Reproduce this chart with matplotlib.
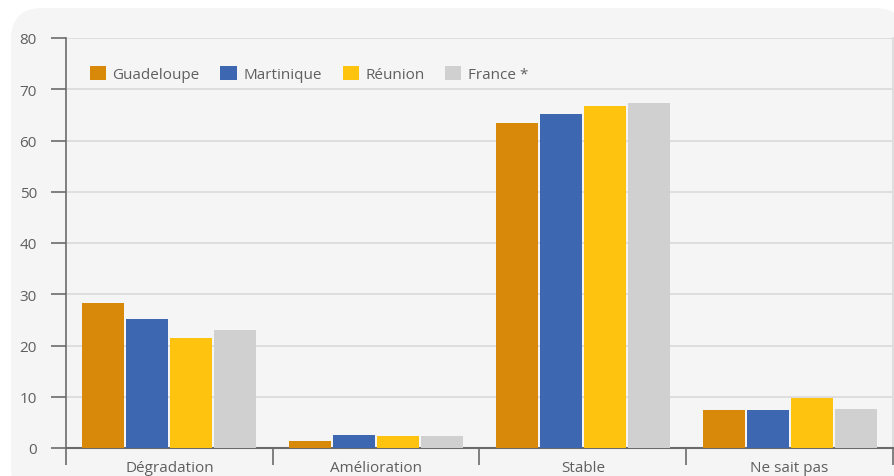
import numpy as np
import matplotlib.pyplot as plt
from matplotlib.patches import FancyBboxPatch

# Data
categories = ["Dégradation", "Amélioration", "Stable", "Ne sait pas"]
series_names = ["Guadeloupe", "Martinique", "Réunion", "France *"]
guadeloupe = [28.3, 1.4, 63.4, 7.4]
martinique = [25.2, 2.5, 65.2, 7.4]
reunion = [21.5, 2.3, 66.7, 9.7]
france = [23.0, 2.3, 67.3, 7.6]
y_ticks = [0, 10, 20, 30, 40, 50, 60, 70, 80]

colors = ["#d8890a", "#3d67b0", "#fdc30f", "#d0d0d0"]
text_col = "#5f5f5f"

plt.rcParams['font.family'] = ['Open Sans', 'DejaVu Sans']

fig = plt.figure(figsize=(8.95, 4.77), dpi=100)
fig.patch.set_facecolor("white")

# rounded light panel behind the chart
panel = FancyBboxPatch((11 / 895, -0.05), 1.0, 1.0 - 9 / 477 + 0.05,
                       boxstyle="round,pad=0,rounding_size=0.035",
                       transform=fig.transFigure, facecolor="#f5f5f5",
                       edgecolor="none", zorder=-5, mutation_aspect=895 / 477)
fig.patches.append(panel)

ax = fig.add_axes([66 / 895, 28 / 477, 827 / 895, 410 / 477])
ax.set_facecolor("none")
ax.set_zorder(1)

x = np.arange(len(categories))
step = 0.2126
width = 0.203
all_series = [guadeloupe, martinique, reunion, france]
for i, (vals, name) in enumerate(zip(all_series, series_names)):
    ax.bar(x + (i - 1.5) * step, vals, width, color=colors[i], label=name, zorder=3)

ax.set_xlim(-0.5, len(categories) - 0.5)
ax.set_ylim(0, 80)
ax.set_yticks(y_ticks)
ax.yaxis.grid(True, color="#dadada", linewidth=1.2, zorder=0)
ax.set_axisbelow(True)

# category boundaries as major ticks, labels in between
ax.set_xticks(np.arange(len(categories) + 1) - 0.5)
ax.set_xticklabels([])
ax.set_xticks(x, minor=True)
ax.set_xticklabels(categories, minor=True)
ax.tick_params(axis="x", which="major", length=12, width=1.2, color="#6b6b6b", direction="out")
ax.tick_params(axis="x", which="minor", length=0, pad=9, labelsize=11, labelcolor=text_col)
ax.tick_params(axis="y", length=11, width=1.2, color="#6b6b6b", labelsize=11, labelcolor=text_col, pad=10)

ax.spines["top"].set_visible(False)
ax.spines["right"].set_color("#dadada")
ax.spines["right"].set_linewidth(1.2)
ax.spines["left"].set_color("#6b6b6b")
ax.spines["bottom"].set_color("#6b6b6b")
ax.spines["left"].set_linewidth(1.2)
ax.spines["bottom"].set_linewidth(1.5)

leg = ax.legend(loc="upper left", bbox_to_anchor=(0.012, 0.965), ncol=4, frameon=False,
                fontsize=11, handlelength=1.05, handleheight=1.05, handletextpad=0.45,
                columnspacing=1.35, labelcolor=text_col)

fig.savefig("out.png", dpi=100)
